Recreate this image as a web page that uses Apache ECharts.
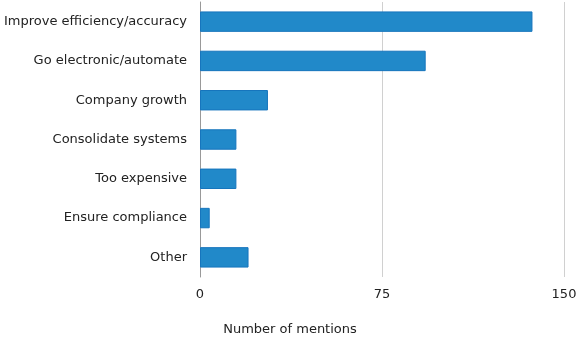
<!DOCTYPE html>
<html>
<head>
<meta charset="utf-8">
<script src="https://cdn.jsdelivr.net/npm/echarts@6/dist/echarts.min.js"></script>
<style>html,body{margin:0;padding:0;background:#fff}#c{width:580px;height:343px}</style>
</head>
<body>
<div id="c"></div>
<script>
const categories = ["Improve efficiency/accuracy","Go electronic/automate","Company growth","Consolidate systems","Too expensive","Ensure compliance","Other"];
const mentions = [137, 93, 28, 15, 15, 4, 20];
const xTicks = [0, 75, 150];

const chart = echarts.init(document.getElementById('c'), null, {renderer:'canvas'});
const font = '"DejaVu Sans", Verdana, sans-serif';
chart.setOption({
  animation: false,
  grid: {left: 200, right: 16, top: 2, bottom: 66, containLabel: false},
  xAxis: {
    type: 'value', min: xTicks[0], max: xTicks[xTicks.length-1], interval: xTicks[1]-xTicks[0],
    axisLine: {show: false}, axisTick: {show: false},
    splitLine: {show: true, lineStyle: {color: '#d0d0d0', width: 1}},
    axisLabel: {color: '#222', fontSize: 13, fontFamily: font, margin: 11},
    name: 'Number of mentions', nameLocation: 'middle', nameGap: 46,
    nameTextStyle: {color: '#222', fontSize: 13, fontFamily: font, padding: [0, 184, 0, 0]}
  },
  yAxis: {
    type: 'category', data: categories, inverse: true,
    axisLine: {show: true, lineStyle: {color: '#999', width: 1}},
    axisTick: {show: false},
    axisLabel: {color: '#222', fontSize: 13, fontFamily: font, margin: 13}
  },
  series: [{
    type: 'bar', data: mentions, barCategoryGap: '48%',
    itemStyle: {color: '#2189c9', borderColor: '#1675bd', borderWidth: 1, borderRadius: 0}
  }]
});
</script>
</body>
</html>
